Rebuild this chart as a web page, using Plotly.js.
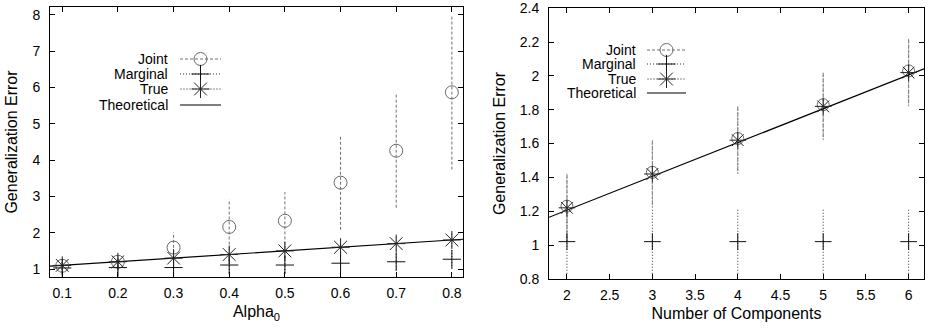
<!DOCTYPE html>
<html>
<head>
<meta charset="utf-8">
<script src="https://cdn.plot.ly/plotly-3.0.1.min.js"></script>
<style>html,body{margin:0;padding:0;background:#fff;}#chart{width:928px;height:329px;}</style>
</head>
<body>
<div id="chart"></div>
<script>
// ---------- Data: left panel (Alpha_0) ----------
const alpha = [0.1, 0.2, 0.3, 0.4, 0.5, 0.6, 0.7, 0.8];
const jointL = [1.09, 1.2, 1.59, 2.16, 2.33, 3.38, 4.26, 5.87];
const jointLErr = [0.12, 0.18, 0.42, 0.76, 0.79, 1.3, 1.57, 2.13];
const marginalL = [1.03, 1.04, 1.04, 1.11, 1.11, 1.16, 1.2, 1.27];
const marginalLErr = [0.2, 0.22, 0.2, 0.22, 0.22, 0.23, 0.22, 0.27];
const trueL = [1.1, 1.2, 1.3, 1.4, 1.5, 1.6, 1.7, 1.8];
const trueLErr = [0.1, 0.12, 0.14, 0.15, 0.17, 0.18, 0.19, 0.2];
const theoLX = [0.078, 0.82];
const theoLY = [1.078, 1.82];

// ---------- Data: right panel (Number of Components) ----------
const comps = [2, 3, 4, 5, 6];
const jointR = [1.23, 1.43, 1.63, 1.83, 2.03];
const jointRErr = [0.19, 0.19, 0.19, 0.19, 0.19];
const marginalR = [1.02, 1.02, 1.02, 1.02, 1.02];
const marginalRErr = [0.19, 0.19, 0.19, 0.19, 0.19];
const trueR = [1.22, 1.42, 1.62, 1.82, 2.02];
const trueRErr = [0.2, 0.2, 0.2, 0.2, 0.2];
const theoRX = [1.79, 6.18];
const theoRY = [1.164, 2.042];

const seriesNames = ["Joint", "Marginal", "True", "Theoretical"];

// ---------- Styles ----------
const FONT = "Liberation Sans, Arial, Helvetica, sans-serif";
const W = 928, H = 329;
const sty = {
  Joint:    {sym: "circle-open", col: "#6a6a6a", size: 13, ecol: "#707070", dash: "3px,2px"},
  Marginal: {sym: "cross-thin-open", col: "#111", size: 13, ecol: "#333", dash: "1px,2px"},
  True:     {sym: "asterisk-open", col: "#222", size: 15, ecol: "#8a8a8a", dash: "2px,1px"}
};

function errSegs(xs, ys, es) {
  const X = [], Y = [];
  xs.forEach((x, i) => { X.push(x, x, null); Y.push(ys[i] - es[i], ys[i] + es[i], null); });
  return {X, Y};
}

const traces = [];
function addPanel(xs, J, Je, M, Me, T, Te, thX, thY, xa, ya, msz) {
  const groups = [["Joint", J, Je], ["Marginal", M, Me], ["True", T, Te]];
  groups.forEach(([name, ys, es]) => {
    const s = errSegs(xs, ys, es);
    traces.push({type: "scatter", mode: "lines", x: s.X, y: s.Y, xaxis: xa, yaxis: ya,
      line: {color: sty[name].ecol, width: 1, dash: sty[name].dash}, showlegend: false, hoverinfo: "skip"});
  });
  traces.push({type: "scatter", mode: "lines", x: thX, y: thY, xaxis: xa, yaxis: ya,
    line: {color: "#000", width: 1.2}, showlegend: false});
  groups.forEach(([name, ys]) => {
    traces.push({type: "scatter", mode: "markers", x: xs, y: ys, xaxis: xa, yaxis: ya, name: name,
      marker: {symbol: sty[name].sym, size: sty[name].size * msz, color: sty[name].col,
               line: {color: sty[name].col, width: 1}}, showlegend: false, cliponaxis: true});
  });
}
addPanel(alpha, jointL, jointLErr, marginalL, marginalLErr, trueL, trueLErr, theoLX, theoLY, "x", "y", 1);
addPanel(comps, jointR, jointRErr, marginalR, marginalRErr, trueR, trueRErr, theoRX, theoRY, "x2", "y2", 0.92);

// ---------- Custom gnuplot-style keys (pixel-space helper axis) ----------
const keys = [
  {textX: 170, x0: 180, x1: 221, rows: [59, 74, 89, 105]},
  {textX: 638, x0: 647, x1: 686, rows: [50, 64, 79, 93]}
];
const annotations = [];
keys.forEach(k => {
  seriesNames.forEach((name, i) => {
    const yy = k.rows[i];
    annotations.push({xref: "paper", yref: "paper", x: k.textX / W, y: 1 - yy / H,
      xanchor: "right", yanchor: "middle", showarrow: false, text: name,
      font: {family: FONT, size: 14, color: "#000"}});
    if (name === "Theoretical") {
      traces.push({type: "scatter", mode: "lines", x: [k.x0, k.x1], y: [yy, yy], xaxis: "x3", yaxis: "y3",
        line: {color: "#000", width: 1.2}, showlegend: false, hoverinfo: "skip"});
    } else {
      traces.push({type: "scatter", mode: "lines", x: [k.x0, k.x1], y: [yy, yy], xaxis: "x3", yaxis: "y3",
        line: {color: sty[name].ecol, width: 1, dash: sty[name].dash}, showlegend: false, hoverinfo: "skip"});
      traces.push({type: "scatter", mode: "markers", x: [(k.x0 + k.x1) / 2], y: [yy], xaxis: "x3", yaxis: "y3",
        marker: {symbol: sty[name].sym, size: sty[name].size, color: sty[name].col,
                 line: {color: sty[name].col, width: 1}}, showlegend: false, hoverinfo: "skip"});
    }
  });
});

const axBase = {
  showline: true, linecolor: "#000", linewidth: 1, mirror: "allticks",
  ticks: "inside", ticklen: 5, tickcolor: "#000", tickwidth: 1,
  showgrid: false, zeroline: false, automargin: false,
  tickfont: {family: FONT, size: 14, color: "#000"}, fixedrange: true
};
const titleFont = {family: FONT, size: 16, color: "#000"};

const layout = {
  width: W, height: H,
  margin: {l: 0, r: 0, t: 0, b: 0},
  paper_bgcolor: "#fff", plot_bgcolor: "rgba(0,0,0,0)",
  showlegend: false, hovermode: false,
  xaxis: Object.assign({}, axBase, {domain: [50 / W, 463 / W], range: [0.078, 0.82], dtick: 0.1, tick0: 0.1,
    anchor: "y", ticklabelstandoff: 3, title: {text: "Alpha<sub>0</sub>", font: titleFont, standoff: 6}}),
  yaxis: Object.assign({}, axBase, {domain: [1 - 277 / H, 1 - 7 / H], range: [0.78, 8.22], dtick: 1, tick0: 1,
    anchor: "x", ticklabelstandoff: 6, title: {text: "Generalization Error", font: titleFont, standoff: 10}}),
  xaxis2: Object.assign({}, axBase, {domain: [549 / W, 924 / W], range: [1.79, 6.18], dtick: 0.5, tick0: 2,
    anchor: "y2", ticklabelstandoff: 3, title: {text: "Number of Components", font: titleFont, standoff: 6}}),
  yaxis2: Object.assign({}, axBase, {domain: [1 - 279 / H, 1 - 8 / H], range: [0.799, 2.402], dtick: 0.2, tick0: 0.8,
    anchor: "x2", ticklabelstandoff: 6, title: {text: "Generalization Error", font: titleFont, standoff: 10}}),
  xaxis3: {domain: [0, 1], range: [0, W], visible: false, anchor: "y3", fixedrange: true},
  yaxis3: {domain: [0, 1], range: [H, 0], visible: false, anchor: "x3", fixedrange: true},
  annotations: annotations
};

Plotly.newPlot("chart", traces, layout, {displayModeBar: false, staticPlot: true});
</script>
</body>
</html>
